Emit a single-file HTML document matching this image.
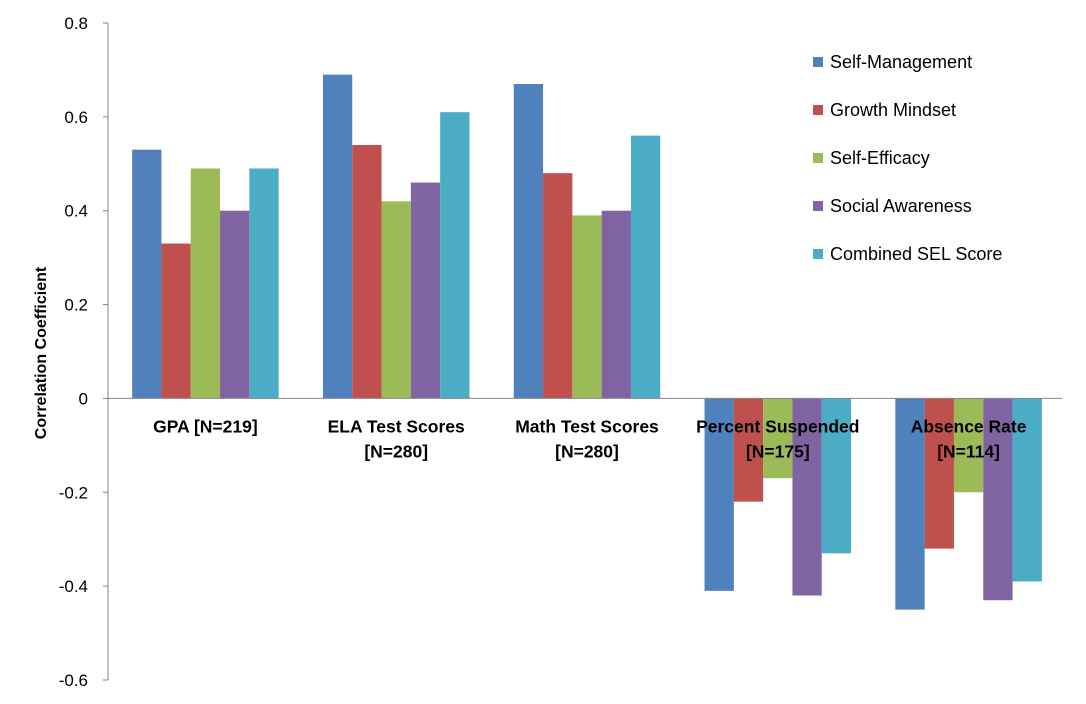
<!DOCTYPE html>
<html><head><meta charset="utf-8">
<style>
body{margin:0;background:#fff;}
svg{display:block;font-family:"Liberation Sans",Arial,sans-serif;}
</style></head>
<body>
<svg id="chart" width="1086" height="704"></svg>
<script>
const categories = [["GPA [N=219]"],["ELA Test Scores","[N=280]"],["Math Test Scores","[N=280]"],["Percent Suspended","[N=175]"],["Absence Rate","[N=114]"]];
const seriesNames = ["Self-Management","Growth Mindset","Self-Efficacy","Social Awareness","Combined SEL Score"];
const selfManagement = [0.53,0.69,0.67,-0.41,-0.45];
const growthMindset = [0.33,0.54,0.48,-0.22,-0.32];
const selfEfficacy = [0.49,0.42,0.39,-0.17,-0.20];
const socialAwareness = [0.40,0.46,0.40,-0.42,-0.43];
const combinedSel = [0.49,0.61,0.56,-0.33,-0.39];
const yTicks = ["0.8","0.6","0.4","0.2","0","-0.2","-0.4","-0.6"];

const series = [selfManagement,growthMindset,selfEfficacy,socialAwareness,combinedSel];
const colors = ["#4F81BD","#C0504D","#9BBB59","#8064A2","#4BACC6"];
const NS="http://www.w3.org/2000/svg";
const svg=document.getElementById('chart');
const x0=108, x1=1062, yTop=23, yBot=680, vMax=0.8, vMin=-0.6;
const y=v=>yTop+(vMax-v)/(vMax-vMin)*(yBot-yTop);
const catW=(x1-x0)/categories.length, barW=29.3, groupW=barW*5;
function el(tag,attrs,parent){const e=document.createElementNS(NS,tag);for(const k in attrs)e.setAttribute(k,attrs[k]);(parent||svg).appendChild(e);return e;}

yTicks.forEach(t=>{
  const v=parseFloat(t), yy=y(v);
  const tx=el('text',{x:88,y:yy+6,'text-anchor':'end','font-size':17,fill:'#000'});
  tx.textContent=t;
  
  
  el('line',{x1:103,x2:108,y1:yy,y2:yy,stroke:'#868686'});
});
series.forEach((vals,si)=>{
  vals.forEach((v,ci)=>{
    const bx=x0+2+ci*catW+(catW-groupW)/2+si*barW;
    const r=el('rect',{x:bx,y:Math.min(y(v),y(0)),width:barW,height:Math.abs(y(v)-y(0)),fill:colors[si]});
    
    
  });
});
el('line',{x1:x0,x2:x0,y1:yTop,y2:yBot,stroke:'#868686'});
el('line',{x1:x0,x2:x1,y1:y(0),y2:y(0),stroke:'#868686'});
categories.forEach((lines,ci)=>{
  const cx=x0+2+ci*catW+catW/2;
  lines.forEach((ln,li)=>{
    const t=el('text',{x:cx,y:y(0)+34+li*25,'text-anchor':'middle','font-size':17.5,'font-weight':'bold',fill:'#000'});
    t.textContent=ln;
    
    
  });
});
const yt=el('text',{x:0,y:0,transform:'translate(46,353) rotate(-90)','text-anchor':'middle','font-size':16,'font-weight':'bold',fill:'#000'});
yt.textContent='Correlation Coefficient';


seriesNames.forEach((n,i)=>{
  const ly=62+i*48;
  const r=el('rect',{x:813,y:ly-5,width:10,height:10,fill:colors[i]});
  
  
  const t=el('text',{x:830,y:ly+6,'font-size':18,fill:'#000'});
  t.textContent=n;
  
  
});
</script>
</body></html>
